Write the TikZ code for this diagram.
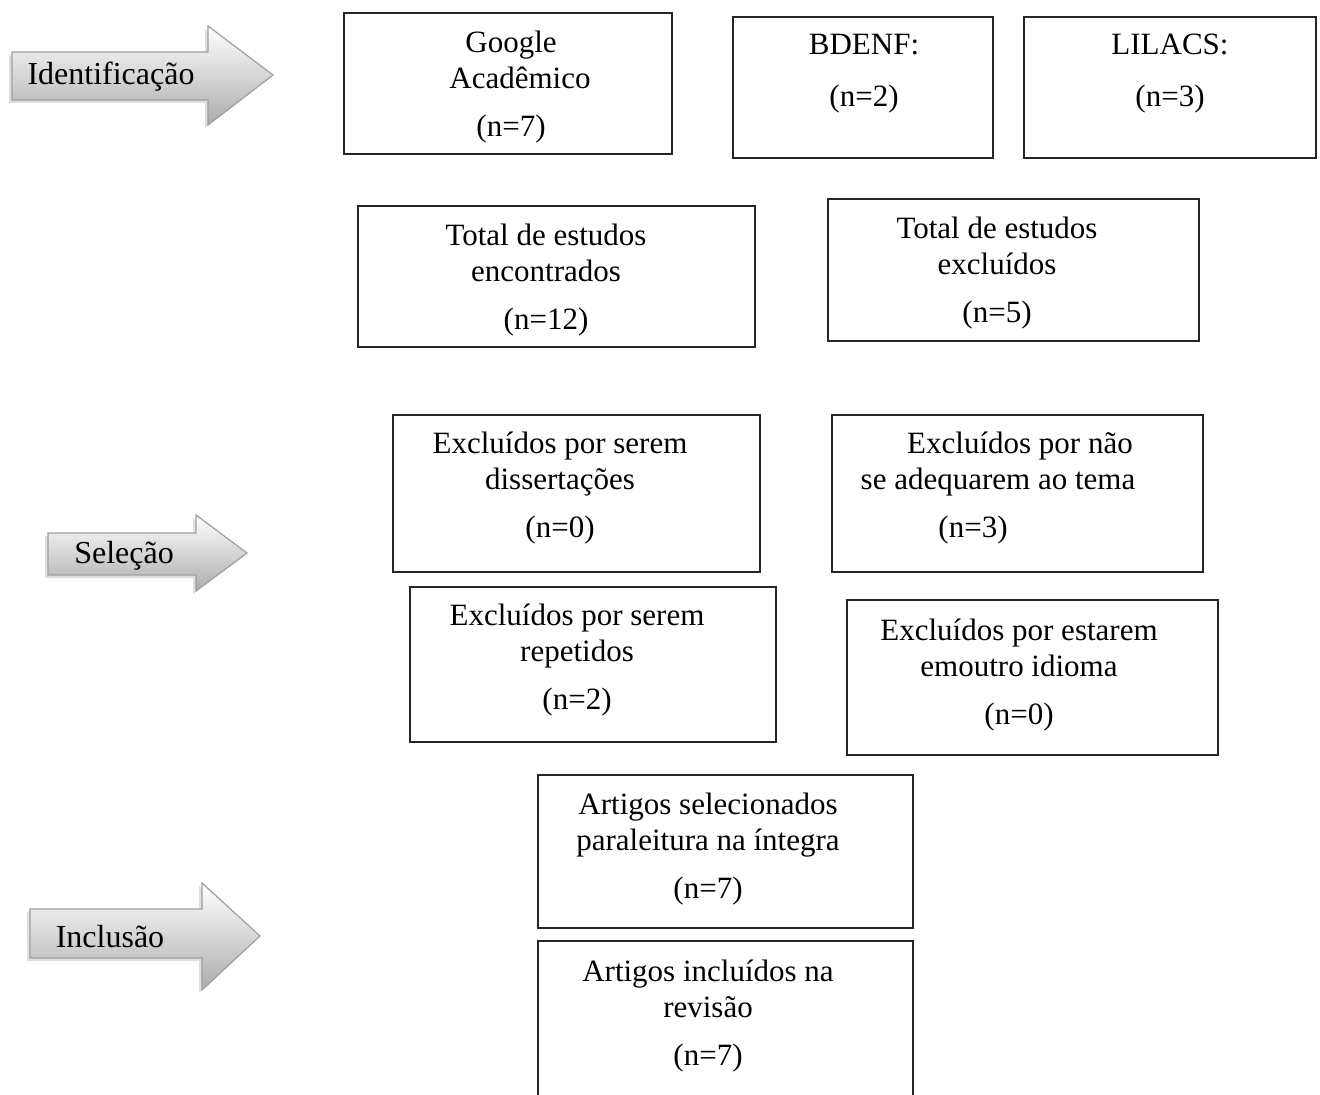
\documentclass[tikz,border=0pt]{standalone}
\usepackage{fontspec}
\setmainfont{Liberation Serif}
\usetikzlibrary{shadows}
\tikzset{
  % caixas do fluxograma
  caixa/.style={
    draw=black!85,
    line width=0.9pt,
    inner sep=0pt
  },
  % texto das caixas
  texto/.style={
    align=center,
    inner sep=0pt,
    font=\fontsize{15.5}{18}\selectfont
  },
  % setas das etapas
  seta/.style={
    draw=gray!75,
    line width=0.6pt,
    top color=white,
    bottom color=gray!65,
    drop shadow={shadow xshift=-1.5pt, shadow yshift=-1.5pt, fill=gray!50}
  },
  etapa/.style={inner sep=0pt, font=\fontsize{16}{19}\selectfont},
}
\begin{document}
\begin{tikzpicture}[x=0.5pt, y=-0.5pt]
    \useasboundingbox (0,0) rectangle (1320,1095);

    % Etapas
    \path[seta] (12,52) -- (208,52) -- (208,26) -- (273,75) -- (208,125) -- (208,100) -- (12,100) -- cycle;
    \node[etapa] (identificacao) at (111,77) {Identificação};

    \path[seta] (48,533) -- (196,533) -- (196,515) -- (247,553) -- (196,591) -- (196,575) -- (48,575) -- cycle;
    \node[etapa] (selecao) at (124,556) {Seleção};

    \path[seta] (30,909) -- (202,909) -- (202,883) -- (260,936) -- (202,990) -- (202,958) -- (30,958) -- cycle;
    \node[etapa] (inclusao) at (110,937) {Inclusão};

    % Identificacao
    \node[caixa, minimum width=164pt, minimum height=70.5pt] (google) at (508,83.5) {};
    \node[texto] (googletxt) at (511,87) {Google\\\hspace*{9pt}Acadêmico\\[6pt](n=7)};

    \node[caixa, minimum width=130pt, minimum height=70.5pt] (bdenf) at (863,87.5) {};
    \node[texto] (bdenftxt) at (864,74) {BDENF:\\[8pt](n=2)};

    \node[caixa, minimum width=146pt, minimum height=70.5pt] (lilacs) at (1170,87.5) {};
    \node[texto] (lilacstxt) at (1170,74) {LILACS:\\[8pt](n=3)};

    \node[caixa, minimum width=198.5pt, minimum height=70.5pt] (encontrados) at (556.5,276.5) {};
    \node[texto] (encontradostxt) at (546,280) {Total de estudos\\encontrados\\[6pt](n=12)};

    \node[caixa, minimum width=185.5pt, minimum height=71pt] (excluidos) at (1013.5,270) {};
    \node[texto] (excluidostxt) at (997,273) {Total de estudos\\excluídos\\[6pt](n=5)};

    % Selecao
    \node[caixa, minimum width=183.5pt, minimum height=78.5pt] (dissertacoes) at (576.5,493.5) {};
    \node[texto] (dissertacoestxt) at (560,488.5) {Excluídos por serem\\dissertações\\[6pt](n=0)};

    \node[caixa, minimum width=185.5pt, minimum height=78.5pt] (tema) at (1017.5,493.5) {};
    \node[texto] (tematxt) at (998,488.5) {\hspace*{22pt}Excluídos por não\\se adequarem ao tema\\[6pt](n=3)\hspace*{25pt}};

    \node[caixa, minimum width=183pt, minimum height=77.5pt] (repetidos) at (593,664.5) {};
    \node[texto] (repetidostxt) at (577,660.5) {Excluídos por serem\\repetidos\\[6pt](n=2)};

    \node[caixa, minimum width=185.5pt, minimum height=77.5pt] (idioma) at (1032.5,677.5) {};
    \node[texto] (idiomatxt) at (1019,675) {Excluídos por estarem\\emoutro idioma\\[6pt](n=0)};

    % Inclusao
    \node[caixa, minimum width=187.5pt, minimum height=76.5pt] (selecionados) at (725.5,851.5) {};
    \node[texto] (selecionadostxt) at (708,849) {Artigos selecionados\\paraleitura na íntegra\\[6pt](n=7)};

    \node[caixa, minimum width=187.5pt, minimum height=90pt] (incluidos) at (725.5,1031) {};
    \node[texto] (incluidostxt) at (708,1016) {Artigos incluídos na\\revisão\\[6pt](n=7)};
\end{tikzpicture}
\end{document}
